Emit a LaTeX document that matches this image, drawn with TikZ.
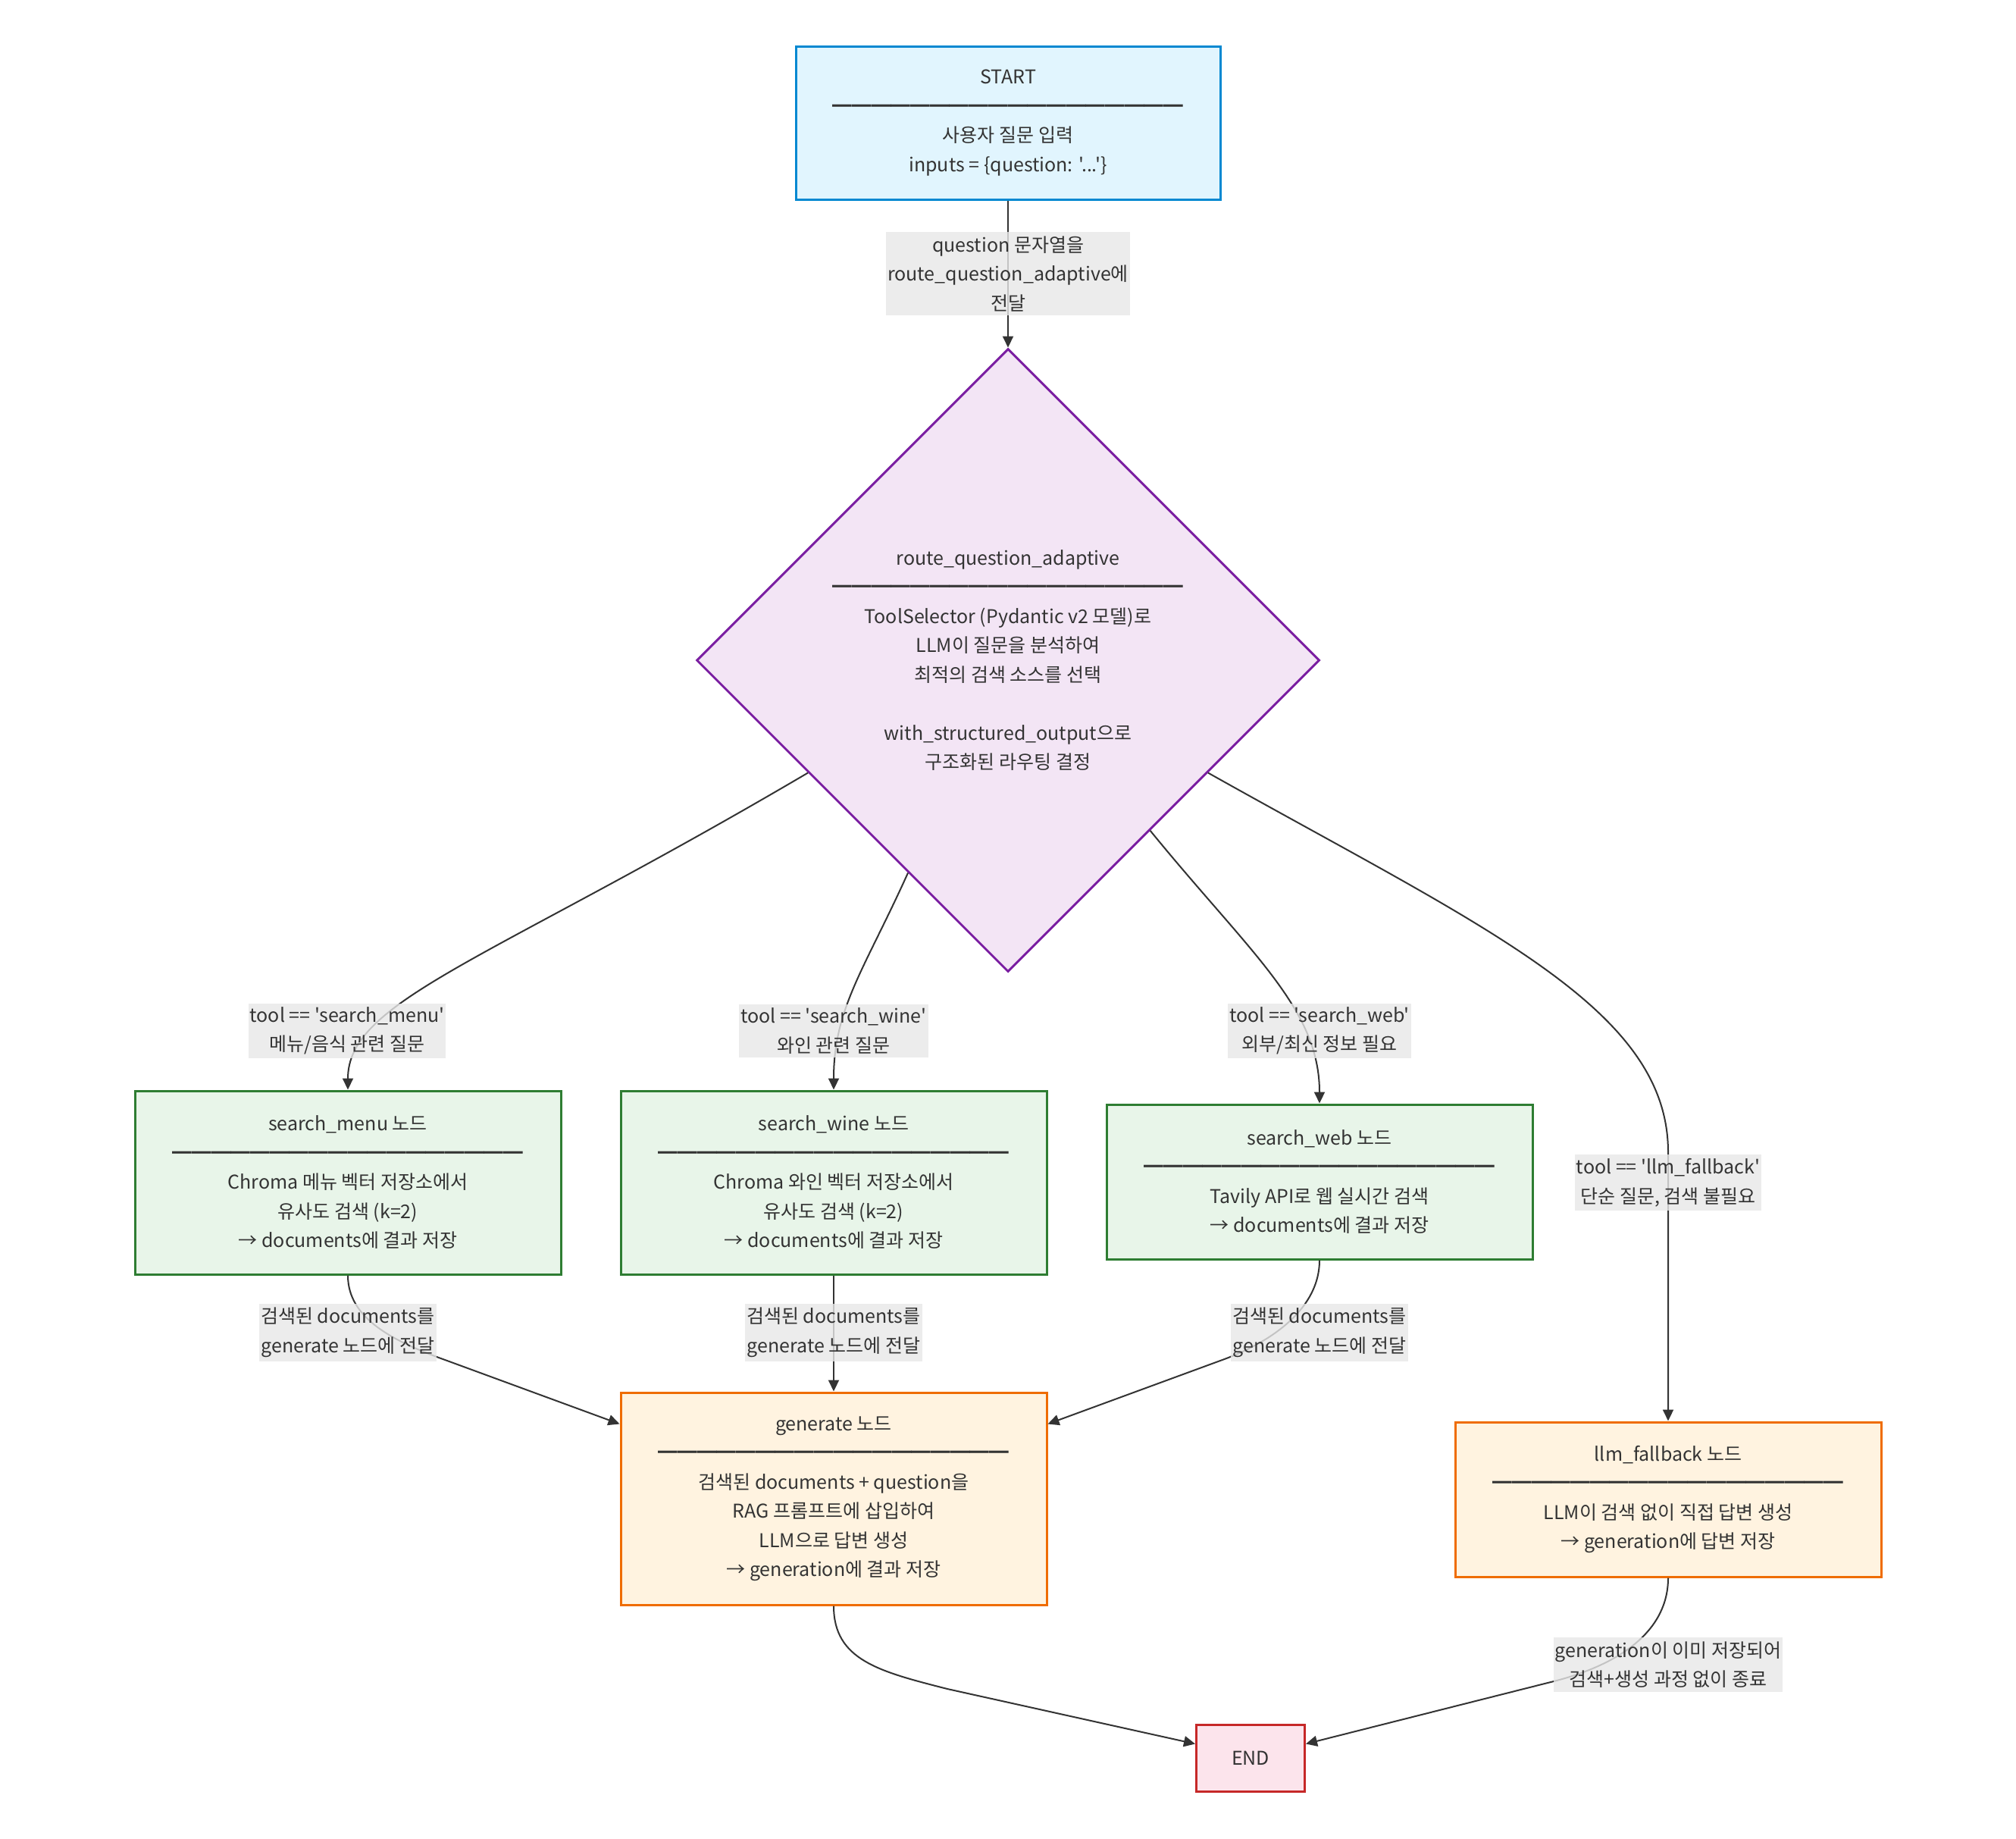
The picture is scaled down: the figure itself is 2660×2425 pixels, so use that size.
\documentclass[tikz,border=0pt]{standalone}
\usepackage{fontspec}
\newfontfamily\kr{Noto Sans CJK KR}
\usetikzlibrary{arrows.meta,calc,shapes.geometric}
\definecolor{txt}{HTML}{333333}
\definecolor{startf}{HTML}{E1F5FE}
\definecolor{startb}{HTML}{0288D1}
\definecolor{routef}{HTML}{F3E5F5}
\definecolor{routeb}{HTML}{7B1FA2}
\definecolor{searchf}{HTML}{E8F5E9}
\definecolor{searchb}{HTML}{2E7D32}
\definecolor{genf}{HTML}{FFF3E0}
\definecolor{genb}{HTML}{EF6C00}
\definecolor{endf}{HTML}{FCE4EC}
\definecolor{endb}{HTML}{C62828}
\definecolor{labf}{HTML}{E8E8E8}
\newcommand\sepline{{\fontsize{25.7}{38.5}\selectfont ━━━━━━━━━━━━━━━━━━}}
\begin{document}
\begin{tikzpicture}[x=1pt,y=-1pt,
  every node/.style={font=\kr\fontsize{25}{38.5}\selectfont, text=txt, align=center},
  box/.style={draw, line width=3pt, inner sep=0pt},
  startbox/.style={box, draw=startb, fill=startf, minimum width=560pt, minimum height=202pt},
  decision/.style={box, shape=diamond, aspect=1, draw=routeb, fill=routef, minimum width=822pt, minimum height=822pt},
  searchbox/.style={box, draw=searchb, fill=searchf, minimum width=562pt},
  genbox/.style={box, draw=genb, fill=genf, minimum width=562pt},
  endbox/.style={box, draw=endb, fill=endf, minimum width=143pt, minimum height=88pt},
  elabel/.style={fill=labf, fill opacity=0.8, text opacity=1, inner xsep=2pt, inner ysep=5pt},
  edge/.style={draw=txt, line width=2pt, -{Triangle[length=15pt,width=14pt]}}
]
\fill[white] (0,0) rectangle (2660,2425);
\useasboundingbox (0,0) rectangle (2660,2425);

% nodes
\node[startbox] (start) at (1330,162) {START\\\sepline\\사용자 질문 입력\\inputs = \{question: '...'\}};
\node[decision] (route) at (1330,871) {route\_question\_adaptive\\\sepline\\ToolSelector (Pydantic v2 모델)로\\LLM이 질문을 분석하여\\최적의 검색 소스를 선택\\~\\with\_structured\_output으로\\구조화된 라우팅 결정};
\node[searchbox, minimum height=242pt] (menu) at (459,1560) {search\_menu 노드\\\sepline\\Chroma 메뉴 벡터 저장소에서\\유사도 검색 (k=2)\\→ documents에 결과 저장};
\node[searchbox, minimum height=242pt] (wine) at (1100,1560) {search\_wine 노드\\\sepline\\Chroma 와인 벡터 저장소에서\\유사도 검색 (k=2)\\→ documents에 결과 저장};
\node[searchbox, minimum height=204pt] (web) at (1741,1559) {search\_web 노드\\\sepline\\Tavily API로 웹 실시간 검색\\→ documents에 결과 저장};
\node[genbox, minimum height=280pt] (gen) at (1100,1977) {generate 노드\\\sepline\\검색된 documents + question을\\RAG 프롬프트에 삽입하여\\LLM으로 답변 생성\\→ generation에 결과 저장};
\node[genbox, minimum height=204pt] (fb) at (2201,1978) {llm\_fallback 노드\\\sepline\\LLM이 검색 없이 직접 답변 생성\\→ generation에 답변 저장};
\node[endbox] (stop) at (1650,2319) {END};

% edges
\draw[edge] (start) -- (route);
\draw[edge] ($(route.west)!0.36!(route.south)$) .. controls (640,1270) and (459,1320) .. (menu.north);
\draw[edge] ($(route.west)!0.68!(route.south)$) .. controls (1140,1280) and (1100,1330) .. (wine.north);
\draw[edge] ($(route.east)!0.545!(route.south)$) .. controls (1650,1258) and (1741,1330) .. (web.north);
\draw[edge] ($(route.east)!0.36!(route.south)$) .. controls (1960,1225) and (2201,1330) .. (2201,1520) -- (fb.north);
\draw[edge] (menu.south) .. controls (459,1740) and (520,1770) .. (590,1795) -- ($(gen.north west)+(0,43)$);
\draw[edge] (wine) -- (gen);
\draw[edge] (web.south) .. controls (1741,1725) and (1680,1770) .. (1610,1795) -- ($(gen.north east)+(0,43)$);
\draw[edge] (gen.south) .. controls (1100,2190) and (1160,2205) .. (1250,2228) -- ($(stop.north west)+(0,27)$);
\draw[edge] (fb.south) .. controls (2201,2150) and (2140,2195) .. (2050,2218) -- ($(stop.north east)+(0,27)$);

% edge labels
\node[elabel] (l0) at (1330,361) {question 문자열을\\route\_question\_adaptive에\\전달};
\node[elabel] (lmenu) at (458,1360) {tool == 'search\_menu'\\메뉴/음식 관련 질문};
\node[elabel] (lwine) at (1100,1360) {tool == 'search\_wine'\\와인 관련 질문};
\node[elabel] (lweb) at (1741,1360) {tool == 'search\_web'\\외부/최신 정보 필요};
\node[elabel] (lfb) at (2201,1560) {tool == 'llm\_fallback'\\단순 질문, 검색 불필요};
\node[elabel] (lg1) at (459,1758) {검색된 documents를\\generate 노드에 전달};
\node[elabel] (lg2) at (1100,1758) {검색된 documents를\\generate 노드에 전달};
\node[elabel] (lg3) at (1741,1758) {검색된 documents를\\generate 노드에 전달};
\node[elabel] (lend) at (2201,2196) {generation이 이미 저장되어\\검색+생성 과정 없이 종료};
\end{tikzpicture}
\end{document}
